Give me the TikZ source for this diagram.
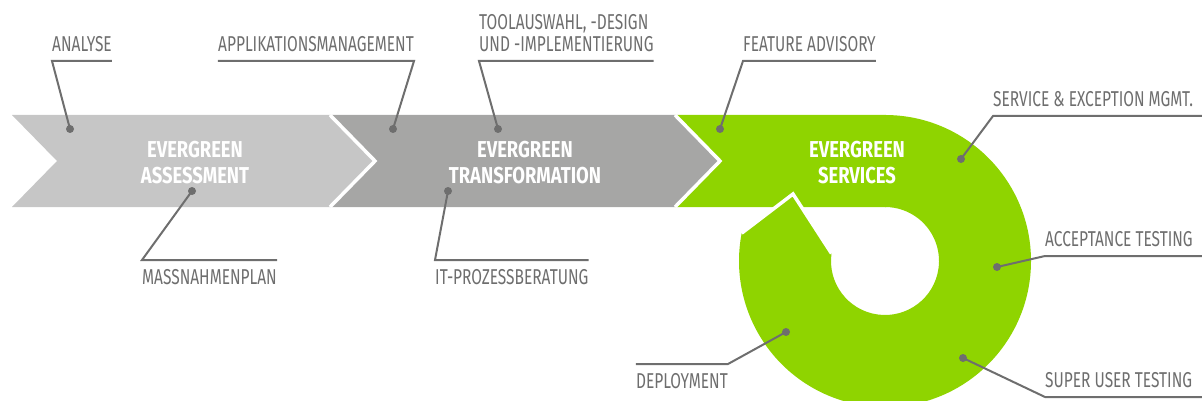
\documentclass[tikz,border=0pt]{standalone}
\usepackage{fontspec}
\usepackage{tikz}
\usetikzlibrary{calc}
\newfontfamily\condfont{Fira Sans}[FakeStretch=0.72]
\newfontfamily\titlefont{Fira Sans}[FakeStretch=0.80]
\definecolor{assessgray}{RGB}{198,198,198}
\definecolor{transgray}{RGB}{166,166,165}
\definecolor{servgreen}{RGB}{143,212,0}
\definecolor{labelgray}{RGB}{110,110,110}

\begin{document}
\begin{tikzpicture}[x=1pt,y=-1pt,
    lbl/.style={font=\condfont\fontsize{21.5}{22}\selectfont, text=labelgray, inner xsep=0pt, inner ysep=9pt, align=left},
    title/.style={font=\titlefont\bfseries\fontsize{23}{26}\selectfont, text=white, align=center},
    leader/.style={draw=labelgray, line width=2pt},
    sep/.style={draw=white, line width=3.5pt}]
    \useasboundingbox (0,0) rectangle (1202,401);
    \coordinate (edge) at (1202,0);

    % Pfeile Assessment und Transformation
    \fill[assessgray] (12,115) -- (330,115) -- (375,161) -- (330,207) -- (12,207) -- (57,161) -- cycle;
    \fill[transgray] (330,115) -- (675,115) -- (720,161) -- (675,207) -- (330,207) -- (375,161) -- cycle;

    % Band und Ring Services
    \coordinate (ctr) at (885,261);
    \fill[servgreen] (675,115) -- (886,115) -- (886,207) -- (675,207) -- (720,161) -- cycle;
    \fill[servgreen] (885,115) arc[start angle=-90, end angle=191, radius=146] coordinate (ringend)
        -- (793,194) coordinate (tip) -- ($(ctr)+(188:54)$) coordinate (ringin)
        arc[start angle=188, end angle=-90, radius=54] -- cycle;

    % weisse Trennlinien
    \draw[sep] (330,115) -- (375,161) -- (330,207);
    \draw[sep] (675,115) -- (720,161) -- (675,207);
    \draw[sep] (ringend) -- (tip) -- (ringin);

    % Titel
    \node[title] (assess) at (195,162.5) {EVERGREEN\\ASSESSMENT};
    \node[title] (transf) at (525,162.5) {EVERGREEN\\TRANSFORMATION};
    \node[title] (serv) at (857,162.5) {EVERGREEN\\SERVICES};

    % Punkte
    \coordinate (d-analyse) at (70,129);
    \coordinate (d-applik) at (393,129);
    \coordinate (d-toolsel) at (498,129);
    \coordinate (d-feature) at (720,129);
    \coordinate (d-massplan) at (192,191);
    \coordinate (d-itberat) at (448,191);
    \coordinate (d-servmgmt) at (961,159);
    \coordinate (d-accept) at (997,267);
    \coordinate (d-superuser) at (963,358);
    \coordinate (d-deploy) at (786,332);
    \foreach \d in {analyse,applik,toolsel,feature,massplan,itberat,servmgmt,accept,superuser,deploy}
        \fill[labelgray] (d-\d) circle (4);

    % Beschriftungen oben
    \node[lbl, anchor=south west] (analyse) at (52,61) {ANALYSE};
    \node[lbl, anchor=south east] (applik) at (414,61) {APPLIKATIONSMANAGEMENT};
    \node[lbl, anchor=south west] (toolsel) at (479,61) {TOOLAUSWAHL, -DESIGN\\UND -IMPLEMENTIERUNG};
    \node[lbl, anchor=south west] (feature) at (743,61) {FEATURE ADVISORY};
    \draw[leader] (d-analyse) -- (analyse.south west) -- (analyse.south east);
    \draw[leader] (d-applik) -- (applik.south east) -- (applik.south west);
    \draw[leader] (d-toolsel) -- (toolsel.south west) -- (toolsel.south east);
    \draw[leader] (d-feature) -- (feature.south west) -- (feature.south east);

    % Beschriftungen unten
    \node[lbl, anchor=north west] (massplan) at (142,260) {MASSNAHMENPLAN};
    \node[lbl, anchor=north west] (itberat) at (435,260) {IT-PROZESSBERATUNG};
    \draw[leader] (d-massplan) -- (massplan.north west) -- (massplan.north east);
    \draw[leader] (d-itberat) -- (itberat.north west) -- (itberat.north east);

    % Beschriftungen Ring
    \node[lbl, anchor=south west] (servmgmt) at (993,116) {SERVICE \& EXCEPTION MGMT.};
    \node[lbl, anchor=south west] (accept) at (1045,256) {ACCEPTANCE TESTING};
    \node[lbl, anchor=south west] (superuser) at (1045,397) {SUPER USER TESTING};
    \node[lbl, anchor=north east] (deploy) at (728,364) {DEPLOYMENT};
    \draw[leader] (d-servmgmt) -- (servmgmt.south west) -- (servmgmt.south west -| edge);
    \draw[leader] (d-accept) -- (accept.south west) -- (accept.south west -| edge);
    \draw[leader] (d-superuser) -- (superuser.south west) -- (superuser.south west -| edge);
    \draw[leader] (d-deploy) -- (deploy.north east) -- (deploy.north west);
\end{tikzpicture}
\end{document}
